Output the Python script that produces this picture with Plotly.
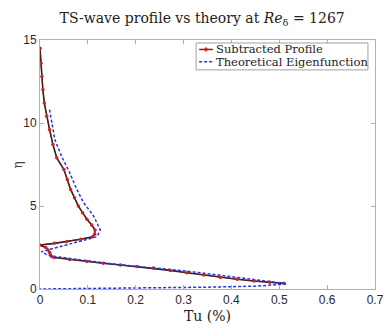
import plotly.graph_objects as go

# Subtracted profile (measured)
sub_eta = [14.5, 13.6, 12.8, 12.0, 11.2, 10.4, 9.6, 8.7, 7.9, 7.2, 6.6, 6.0, 5.5, 5.0, 4.6, 4.2, 3.85,
           3.55, 3.3, 3.15, 3.0, 2.85, 2.75, 2.65, 2.5, 2.35, 2.2, 2.05, 1.95, 1.9, 1.78, 1.65, 1.55,
           1.45, 1.35, 1.26, 1.12, 0.98, 0.84, 0.70, 0.59, 0.48, 0.40, 0.34]
sub_tu = [0.0, 0.002, 0.004, 0.006, 0.009, 0.014, 0.020, 0.027, 0.035, 0.050, 0.057, 0.064, 0.072, 0.080,
          0.089, 0.098, 0.108, 0.115, 0.114, 0.110, 0.085, 0.056, 0.030, 0.0, 0.012, 0.017, 0.020,
          0.022, 0.025, 0.030, 0.062, 0.098, 0.132, 0.168, 0.203, 0.237, 0.272, 0.307, 0.342, 0.377,
          0.412, 0.447, 0.480, 0.510]

# Theoretical eigenfunction
th_eta = [10.8, 9.9, 9.0, 8.0, 7.0, 6.0, 5.2, 4.4, 3.9, 3.55, 3.15, 2.9, 2.65, 2.45, 2.25, 2.1, 2.0,
          1.85, 1.7, 1.45, 1.1, 0.75, 0.5, 0.38, 0.30, 0.17, 0.11, 0.06, 0.03, 0.0]
th_tu = [0.020, 0.025, 0.031, 0.045, 0.062, 0.077, 0.091, 0.112, 0.121, 0.126, 0.119, 0.088, 0.056,
         0.030, 0.003, 0.012, 0.021, 0.060, 0.100, 0.170, 0.300, 0.400, 0.470, 0.500, 0.515, 0.450,
         0.350, 0.200, 0.100, 0.0]

x_ticks = [0, 0.1, 0.2, 0.3, 0.4, 0.5, 0.6, 0.7]
x_tick_text = ["0", "0.1", "0.2", "0.3", "0.4", "0.5", "0.6", "0.7"]
y_ticks = [0, 5, 10, 15]
y_tick_text = ["0", "5", "10", "15"]
legend_names = ["Subtracted Profile", "Theoretical Eigenfunction"]

serif = "DejaVu Serif, Liberation Serif, serif"
sans = "Liberation Sans, Arial, sans-serif"
RED = "#d42020"
BLUE = "#2a35e0"

fig = go.Figure()
fig.add_trace(go.Scatter(x=sub_tu, y=sub_eta, mode="lines", line=dict(color="#222222", width=1.6),
                         showlegend=False, hoverinfo="skip"))
fig.add_trace(go.Scatter(x=sub_tu, y=sub_eta, mode="lines+markers", name=legend_names[0],
                         line=dict(color="#7a1515", width=0.7),
                         marker=dict(color=RED, size=3.5), showlegend=False))
fig.add_trace(go.Scatter(x=th_tu, y=th_eta, mode="lines", name=legend_names[1],
                         line=dict(color=BLUE, width=1.5, dash="3px,2px"), showlegend=False))

axis_common = dict(showgrid=False, zeroline=False, showline=True, linecolor="#b0b0b0", linewidth=1,
                   mirror="ticks", ticks="inside", ticklen=4, tickcolor="#b0b0b0", automargin=False,
                   tickfont=dict(family=sans, size=12, color="#2a2a2a"))

# Custom compact legend (paper coordinates)
lx0, lx1, ly0, ly1 = 0.466, 0.979, 0.880, 0.988
rows = [0.962, 0.913]
sx0, sx1 = 0.475, 0.516
shapes = [dict(type="rect", xref="paper", yref="paper", x0=lx0, x1=lx1, y0=ly0, y1=ly1,
               line=dict(color="#a0a0a0", width=1), fillcolor="white", layer="above")]
shapes.append(dict(type="line", xref="paper", yref="paper", x0=sx0, x1=sx1, y0=rows[0], y1=rows[0],
                   line=dict(color="#8a1a1a", width=1.5), layer="above"))
shapes.append(dict(type="circle", xref="paper", yref="paper", x0=0.4915, x1=0.4995,
                   y0=rows[0] - 0.0075, y1=rows[0] + 0.0075, line=dict(color=RED, width=0.5),
                   fillcolor=RED, layer="above"))
shapes.append(dict(type="line", xref="paper", yref="paper", x0=sx0, x1=sx1, y0=rows[1], y1=rows[1],
                   line=dict(color=BLUE, width=1.5, dash="3px,2px"), layer="above"))
annotations = [dict(text=name, xref="paper", yref="paper", x=0.519, y=yy, xanchor="left",
                    yanchor="middle", showarrow=False,
                    font=dict(family=serif, size=11.5, color="#222222"))
               for name, yy in zip(legend_names, rows)]
annotations.append(dict(text="η", xref="paper", yref="paper", x=-0.066, y=0.5, xanchor="center",
                        yanchor="middle", showarrow=False, textangle=-90,
                        font=dict(family=serif, size=12, color="#444444")))

# Page body has an 8px margin, so the figure is sized to fit the 391x329 window
fig.update_layout(
    width=383, height=321,
    margin=dict(l=32, r=16, t=32, b=40),
    paper_bgcolor="white", plot_bgcolor="white",
    title=dict(text="TS-wave profile vs theory at <i>Re</i><sub>δ</sub> = 1267",
               x=0.507, xanchor="center", y=0.969, yanchor="middle",
               font=dict(family=serif, size=14, color="#222222")),
    xaxis=dict(range=[0, 0.7], tickvals=x_ticks, ticktext=x_tick_text,
               title=dict(text="Tu (%)", font=dict(family=serif, size=14, color="#222222"), standoff=4),
               **axis_common),
    yaxis=dict(range=[0, 15], tickvals=y_ticks, ticktext=y_tick_text, **axis_common),
    shapes=shapes,
    annotations=annotations,
    showlegend=False,
)

fig.write_html("out.html")
